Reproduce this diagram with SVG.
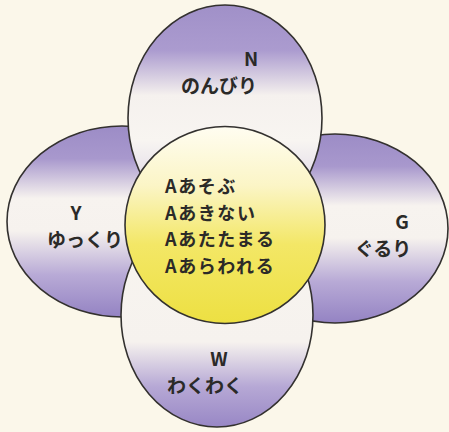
<svg xmlns="http://www.w3.org/2000/svg" width="449" height="432" viewBox="0 0 449 432">
<style>
.ring{stroke:#33312f;stroke-width:1.6}
.t{font-family:"Noto Sans CJK JP","Noto Sans",sans-serif;font-weight:bold;font-size:19px;fill:#2b2a28}
.c{font-size:18px;letter-spacing:1.6px}
</style>
<defs>
<linearGradient id="gTop" x1="0" y1="0" x2="0" y2="1">
<stop offset="0" stop-color="#9c8cc6"/>
<stop offset="0.17" stop-color="#a898cd"/>
<stop offset="0.38" stop-color="#f7f3ef"/>
<stop offset="0.55" stop-color="#f6f2ee"/>
<stop offset="0.78" stop-color="#b8aad6"/>
<stop offset="1" stop-color="#9483c3"/>
</linearGradient>
<linearGradient id="gN" x1="0" y1="0" x2="0" y2="1">
<stop offset="0" stop-color="#a090c8"/>
<stop offset="0.2" stop-color="#ab9bcf"/>
<stop offset="0.4" stop-color="#f5f1ee"/>
<stop offset="0.6" stop-color="#f8f5f1"/>
<stop offset="1" stop-color="#c8bde0"/>
</linearGradient>
<linearGradient id="gW" x1="0" y1="0" x2="0" y2="1">
<stop offset="0" stop-color="#f8f5f0"/>
<stop offset="0.62" stop-color="#f6f2ee"/>
<stop offset="0.82" stop-color="#b6a8d5"/>
<stop offset="1" stop-color="#9887c5"/>
</linearGradient>
<linearGradient id="gC" x1="0" y1="0" x2="0" y2="1">
<stop offset="0" stop-color="#fffdf1"/>
<stop offset="0.3" stop-color="#fbf5c6"/>
<stop offset="0.6" stop-color="#f3e766"/>
<stop offset="1" stop-color="#ede042"/>
</linearGradient>
</defs>
<rect width="449" height="432" fill="#fbf7ea"/>
<g id="node-Y">
<ellipse class="ring" cx="122" cy="221.5" rx="115" ry="95.5" fill="url(#gTop)"/>
<text class="t" x="76" y="220" text-anchor="middle">Y</text>
<text class="t" x="85" y="247" text-anchor="middle">ゆっくり</text>
</g>
<g id="node-G">
<ellipse class="ring" cx="335" cy="228.5" rx="113" ry="94.5" fill="url(#gTop)"/>
<text class="t" x="402" y="229" text-anchor="middle">G</text>
<text class="t" x="383" y="256" text-anchor="middle">ぐるり</text>
</g>
<g id="node-N">
<ellipse class="ring" cx="225" cy="118" rx="97" ry="113" fill="url(#gN)"/>
<text class="t" x="251" y="66" text-anchor="middle">N</text>
<text class="t" x="219" y="93" text-anchor="middle">のんびり</text>
</g>
<g id="node-W">
<ellipse class="ring" cx="217" cy="315" rx="96" ry="112" fill="url(#gW)"/>
<text class="t" x="219" y="366" text-anchor="middle">W</text>
<text class="t" x="205" y="393" text-anchor="middle">わくわく</text>
</g>
<g id="node-A">
<ellipse class="ring" cx="225" cy="225" rx="100" ry="98.5" fill="url(#gC)"/>
<text class="t c" x="165" y="193">Aあそぶ</text>
<text class="t c" x="165" y="219.5">Aあきない</text>
<text class="t c" x="165" y="246">Aあたたまる</text>
<text class="t c" x="165" y="272.5">Aあらわれる</text>
</g>
<g id="connectors"/>
</svg>
